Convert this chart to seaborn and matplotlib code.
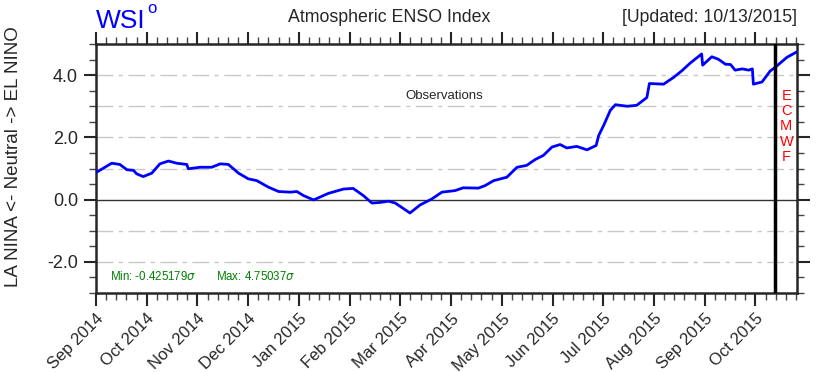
import matplotlib
matplotlib.use("Agg")
import matplotlib.pyplot as plt
import numpy as np
import pandas as pd
import seaborn as sns
from matplotlib.ticker import MultipleLocator, FixedLocator

# months since Sep 2014 (each month is one unit on the axis)
months = [0.00, 0.31, 0.47, 0.61, 0.74, 0.80, 0.93, 1.10, 1.26, 1.43, 1.59, 1.79, 1.82,
          2.05, 2.28, 2.45, 2.61, 2.81, 3.00, 3.17, 3.40, 3.60, 3.83, 3.96, 4.09, 4.29,
          4.58, 4.88, 5.07, 5.27, 5.44, 5.60, 5.77, 5.90, 6.19, 6.39, 6.62, 6.82, 7.08,
          7.24, 7.54, 7.67, 7.84, 8.10, 8.30, 8.49, 8.66, 8.82, 8.99, 9.15, 9.28, 9.48,
          9.68, 9.86, 9.91, 10.01, 10.14, 10.24, 10.47, 10.66, 10.86, 10.91, 11.19, 11.39,
          11.55, 11.71, 11.94, 11.96, 12.14, 12.27, 12.41, 12.51, 12.60, 12.74, 12.87,
          12.94, 12.96, 13.13, 13.29, 13.39, 13.62, 13.82]
enso = [0.87, 1.17, 1.13, 0.96, 0.94, 0.83, 0.74, 0.85, 1.15, 1.24, 1.17, 1.13, 0.99,
        1.04, 1.04, 1.15, 1.13, 0.85, 0.67, 0.61, 0.40, 0.26, 0.24, 0.26, 0.13, -0.01,
        0.20, 0.34, 0.36, 0.13, -0.11, -0.09, -0.05, -0.11, -0.43, -0.17, 0.02, 0.24, 0.29,
        0.38, 0.37, 0.45, 0.61, 0.72, 1.04, 1.10, 1.29, 1.42, 1.69, 1.77, 1.66, 1.71,
        1.60, 1.74, 2.06, 2.39, 2.87, 3.05, 3.00, 3.03, 3.28, 3.73, 3.71, 3.93,
        4.14, 4.38, 4.68, 4.32, 4.59, 4.51, 4.35, 4.34, 4.16, 4.20, 4.16,
        4.20, 3.71, 3.78, 4.13, 4.25, 4.57, 4.75]
month_labels = ["Sep 2014", "Oct 2014", "Nov 2014", "Dec 2014", "Jan 2015", "Feb 2015",
                "Mar 2015", "Apr 2015", "May 2015", "Jun 2015", "Jul 2015", "Aug 2015",
                "Sep 2015", "Oct 2015"]
forecast_start = 13.39
min_val = -0.425179
max_val = 4.75037

sns.set_style("ticks")
plt.rcParams["font.family"] = ["Liberation Sans", "DejaVu Sans"]

fig = plt.figure(figsize=(8.2, 3.72), dpi=100)
ax = fig.add_axes([96 / 820, 79 / 372, 701 / 820, 249 / 372])

df = pd.DataFrame({"month": months, "enso": enso})

# grid lines
for yv in [-2, -1, 1, 2, 3, 4]:
    ax.axhline(yv, color="#c8c8c8", lw=1, dashes=[12, 4, 3, 4], zorder=1)
ax.axhline(0, color="#333333", lw=1, zorder=1)

sns.lineplot(data=df, x="month", y="enso", color="blue", lw=2, ax=ax, zorder=3)
ax.axvline(forecast_start, color="black", lw=2.5, zorder=4)

ax.set_xlim(0, 13.82)
ax.set_ylim(-3, 5)
ax.xaxis.set_major_locator(FixedLocator(range(len(month_labels))))
ax.set_xticklabels(month_labels, rotation=45, ha="right", rotation_mode="anchor", fontsize=12)
ax.xaxis.set_minor_locator(MultipleLocator(0.2))
ax.set_yticks([-2, 0, 2, 4])
ax.set_yticklabels(["-2.0", "0.0", "2.0", "4.0"], fontsize=13)
ax.yaxis.set_minor_locator(MultipleLocator(0.5))
ax.tick_params(which="major", direction="out", length=9, width=1.5, top=True, right=True, pad=4)
ax.tick_params(which="minor", direction="out", length=5, width=1, top=True, right=True, color="#444444")
ax.set_xlabel("")
ax.set_ylabel("")
for sp in ax.spines.values():
    sp.set_linewidth(1.8)
    sp.set_visible(True)

ax.text(6.86, 3.32, "Observations", fontsize=9.5, ha="center", va="center")
ax.text(13.61, 2.35, "E\nC\nM\nW\nF", color="red", fontsize=10.5, ha="center", va="center",
        linespacing=1.12)
ax.text(0.02, 0.068, f"Min: {min_val}$\\sigma$", transform=ax.transAxes, color="green",
        fontsize=8.3, va="center")
ax.text(0.171, 0.068, f"Max: {max_val}$\\sigma$", transform=ax.transAxes, color="green",
        fontsize=8.3, va="center")

fig.text(14 / 820, 1 - 157 / 372, "LA NINA <- Neutral -> EL NINO", fontsize=13.5,
         rotation=90, ha="center", va="center")
fig.text(96 / 820, 1 - 28 / 372, "WSI", color="blue", fontsize=19, va="baseline")
fig.text(147 / 820, 1 - 1 / 372, "o", color="blue", fontsize=12, va="top")
fig.text(389 / 820, 1 - 18 / 372, "Atmospheric ENSO Index", fontsize=12.8, ha="center", va="center")
fig.text(797 / 820, 1 - 18 / 372, "[Updated: 10/13/2015]", fontsize=12.7, ha="right", va="center")

fig.savefig("out.png", dpi=100)
